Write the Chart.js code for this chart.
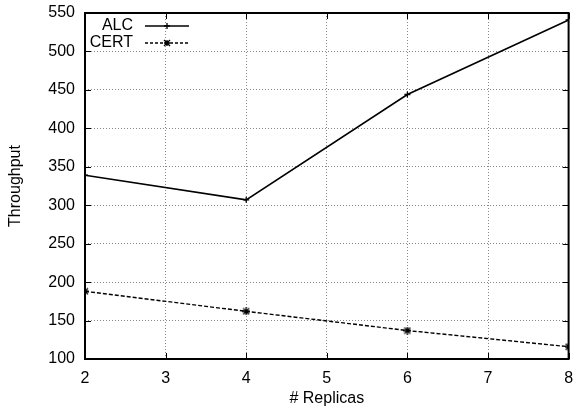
<!DOCTYPE html>
<html>
<head>
<meta charset="utf-8">
<script src="https://cdn.jsdelivr.net/npm/chart.js@4"></script>
<style>
  html, body { margin: 0; padding: 0; background: #fff; }
  #wrap { width: 574px; height: 412px; }
</style>
</head>
<body>
<div id="wrap"><canvas id="myChart" width="574" height="412"></canvas></div>
<script>
const replicas = [2, 4, 6, 8];
const alc = [339, 307, 444, 541];
const cert = [188, 162, 137, 116];
const xTicks = [2, 3, 4, 5, 6, 7, 8];
const yTicks = [100, 150, 200, 250, 300, 350, 400, 450, 500, 550];

const font = "'Liberation Sans', Arial, sans-serif";

// frame, inward ticks and the legend, gnuplot style
const framePlugin = {
  id: 'frame',
  afterDatasetsDraw(chart) {
    const { ctx, chartArea: a, scales } = chart;
    ctx.save();
    ctx.strokeStyle = '#000';
    ctx.lineWidth = 1;
    ctx.beginPath();
    xTicks.forEach(v => {
      const x = Math.round(scales.x.getPixelForValue(v)) + 0.5;
      ctx.moveTo(x, a.bottom); ctx.lineTo(x, a.bottom - 6);
      ctx.moveTo(x, a.top); ctx.lineTo(x, a.top + 6);
    });
    yTicks.forEach(v => {
      const y = Math.round(scales.y.getPixelForValue(v)) + 0.5;
      ctx.moveTo(a.left, y); ctx.lineTo(a.left + 6, y);
      ctx.moveTo(a.right, y); ctx.lineTo(a.right - 6, y);
    });
    ctx.stroke();
    ctx.lineWidth = 2;
    ctx.strokeRect(a.left, a.top, a.right - a.left, a.bottom - a.top);

    // legend
    ctx.font = '16px ' + font;
    ctx.fillStyle = '#000';
    ctx.textAlign = 'right';
    ctx.textBaseline = 'middle';
    const rows = [
      { label: 'ALC', dash: [], y: a.top + 13, mark: 'plus' },
      { label: 'CERT', dash: [3, 2], y: a.top + 30, mark: 'star' }
    ];
    rows.forEach(r => {
      ctx.fillText(r.label, a.left + 48, r.y);
      ctx.lineWidth = 1.3;
      ctx.setLineDash(r.dash);
      ctx.beginPath();
      ctx.moveTo(a.left + 60, r.y); ctx.lineTo(a.left + 104, r.y);
      ctx.stroke();
      ctx.setLineDash([]);
      const cx = a.left + 82;
      ctx.beginPath();
      ctx.moveTo(cx - 3, r.y); ctx.lineTo(cx + 3, r.y);
      ctx.moveTo(cx, r.y - 3); ctx.lineTo(cx, r.y + 3);
      if (r.mark === 'star') {
        ctx.moveTo(cx - 3, r.y - 3); ctx.lineTo(cx + 3, r.y + 3);
        ctx.moveTo(cx - 3, r.y + 3); ctx.lineTo(cx + 3, r.y - 3);
      }
      ctx.stroke();
    });
    ctx.restore();
  }
};

// star marker for CERT
const star = document.createElement('canvas');
star.width = 8; star.height = 8;
(function () {
  const c = star.getContext('2d');
  c.strokeStyle = '#000';
  c.lineWidth = 1.3;
  c.beginPath();
  c.moveTo(1, 1); c.lineTo(7, 7);
  c.moveTo(1, 7); c.lineTo(7, 1);
  c.moveTo(0, 4); c.lineTo(8, 4);
  c.moveTo(4, 0); c.lineTo(4, 8);
  c.stroke();
})();

const ctx = document.getElementById('myChart').getContext('2d');
const chart = new Chart(ctx, {
  type: 'line',
  data: {
    datasets: [{
      label: 'ALC',
      data: replicas.map((r, i) => ({ x: r, y: alc[i] })),
      borderColor: '#000',
      borderWidth: 1.6,
      pointStyle: 'cross',
      pointRadius: 3,
      pointBorderWidth: 1.3,
      pointBorderColor: '#000',
      tension: 0
    }, {
      label: 'CERT',
      data: replicas.map((r, i) => ({ x: r, y: cert[i] })),
      borderColor: '#000',
      borderWidth: 1.4,
      borderDash: [4, 2],
      pointStyle: star,
      pointRadius: 4,
      tension: 0
    }]
  },
  options: {
    responsive: false,
    animation: false,
    layout: { padding: { top: 13, right: 5, left: 2, bottom: 0 } },
    plugins: { legend: { display: false }, tooltip: { enabled: false } },
    scales: {
      x: {
        type: 'linear',
        min: 2, max: 8,
        afterBuildTicks: s => { s.ticks = xTicks.map(v => ({ value: v })); },
        afterFit: s => { s.height = 53; s.paddingLeft = 0; s.paddingRight = 0; },
        grid: { color: '#888', lineWidth: 1, drawTicks: false },
        border: { display: false, dash: [1, 2] },
        ticks: { color: '#000', font: { family: font, size: 16 }, padding: 10 },
        title: { display: true, text: '# Replicas', color: '#000', font: { family: font, size: 16 }, padding: { top: 2 } }
      },
      y: {
        type: 'linear',
        min: 100, max: 550,
        afterBuildTicks: s => { s.ticks = yTicks.map(v => ({ value: v })); },
        afterFit: s => { s.width = 83; s.paddingTop = 0; s.paddingBottom = 0; },
        grid: { color: '#888', lineWidth: 1, drawTicks: false },
        border: { display: false, dash: [1, 2] },
        ticks: { color: '#000', font: { family: font, size: 16 }, padding: 10 },
        title: { display: true, text: 'Throughput', color: '#000', font: { family: font, size: 16 }, padding: { top: 4, bottom: 6 } }
      }
    }
  },
  plugins: [framePlugin]
});
</script>
</body>
</html>
